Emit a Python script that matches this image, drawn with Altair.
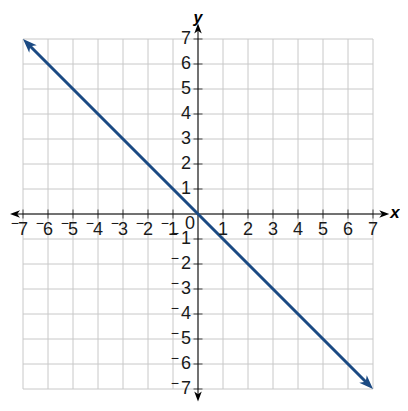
import altair as alt
import pandas as pd

# data
ticks = [-7, -6, -5, -4, -3, -2, -1, 0, 1, 2, 3, 4, 5, 6, 7]
line_x = [-7, 7]
line_y = [7, -7]
x_axis_ends = [-7.52, 7.65]
y_axis_ends = [-7.5, 7.62]

nonzero = [t for t in ticks if t != 0]
negative = [t for t in ticks if t < 0]
xlab = pd.DataFrame({"x": nonzero, "y": [0] * len(nonzero), "t": [str(abs(v)) for v in nonzero]})
ylab = pd.DataFrame({"x": [0] * len(nonzero), "y": nonzero, "t": [str(abs(v)) for v in nonzero]})
xminus = pd.DataFrame({"x": negative, "y": [0] * len(negative), "t": ["\u2212"] * len(negative)})
yminus = pd.DataFrame({"x": [0] * len(negative), "y": negative, "t": ["\u2212"] * len(negative)})
vgrid = pd.DataFrame({"x": ticks, "y": [-7] * len(ticks), "y2": [7] * len(ticks)})
hgrid = pd.DataFrame({"y": ticks, "x": [-7] * len(ticks), "x2": [7] * len(ticks)})

SC = alt.Scale(domain=[-7, 7], nice=False, zero=False)
X = lambda f="x": alt.X(f"{f}:Q", scale=SC, axis=None)
Y = lambda f="y": alt.Y(f"{f}:Q", scale=SC, axis=None)

GRID = "#c8c8c8"
BLUE = "#1b4a83"
TXT = "#1a1a1a"
FONT = "Liberation Sans"
ARROW = "M0,-1 L0.75,1 L0,0.45 L-0.75,1 Z"

vg = alt.Chart(vgrid).mark_rule(color=GRID, strokeWidth=1).encode(x=X(), y=Y(), y2="y2:Q")
hg = alt.Chart(hgrid).mark_rule(color=GRID, strokeWidth=1).encode(y=Y(), x=X(), x2="x2:Q")

ax_len = 0.2
xaxis = alt.Chart(pd.DataFrame({"x": [x_axis_ends[0] + ax_len], "x2": [x_axis_ends[1] - ax_len], "y": [0]})).mark_rule(
    color="black", strokeWidth=1).encode(x=X(), x2="x2:Q", y=Y())
yaxis = alt.Chart(pd.DataFrame({"y": [y_axis_ends[0] + ax_len], "y2": [y_axis_ends[1] - ax_len], "x": [0]})).mark_rule(
    color="black", strokeWidth=1).encode(y=Y(), y2="y2:Q", x=X())

arrows_df = pd.DataFrame({
    "x": [x_axis_ends[0] + ax_len, x_axis_ends[1] - ax_len, 0, 0],
    "y": [0, 0, y_axis_ends[1] - ax_len, y_axis_ends[0] + ax_len],
    "a": [270, 90, 0, 180],
})
axis_arrows = alt.Chart(arrows_df).mark_point(shape=ARROW, filled=True, color="black", opacity=1, size=100,
                                              strokeWidth=0).encode(
    x=X(), y=Y(), angle=alt.Angle("a:Q", scale=None))

xticks = alt.Chart(pd.DataFrame({"x": nonzero, "y": [0] * len(nonzero)})).mark_tick(
    orient="vertical", color="black", thickness=1, size=9).encode(x=X(), y=Y())
yticks = alt.Chart(pd.DataFrame({"x": [0] * len(nonzero), "y": nonzero})).mark_tick(
    orient="horizontal", color="black", thickness=1, size=9).encode(x=X(), y=Y())

xlabels = alt.Chart(xlab).mark_text(font=FONT, fontSize=18, align="center", baseline="middle", dx=0, dy=16,
                                    color=TXT).encode(x=X(), y=Y(), text="t:N")
xminus_l = alt.Chart(xminus).mark_text(font=FONT, fontSize=14, align="right", baseline="middle", dx=-4, dy=10,
                                       color=TXT).encode(x=X(), y=Y(), text="t:N")
ylabels = alt.Chart(ylab).mark_text(font=FONT, fontSize=18, align="right", baseline="middle", dx=-7, dy=0,
                                    color=TXT).encode(x=X(), y=Y(), text="t:N")
yminus_l = alt.Chart(yminus).mark_text(font=FONT, fontSize=14, align="right", baseline="middle", dx=-19, dy=-5,
                                       color=TXT).encode(x=X(), y=Y(), text="t:N")
zero = alt.Chart(pd.DataFrame({"x": [0], "y": [0], "t": ["0"]})).mark_text(
    font=FONT, fontSize=18, align="right", baseline="middle", dx=-3, dy=10, color=TXT).encode(
    x=X(), y=Y(), text="t:N")

xname = alt.Chart(pd.DataFrame({"x": [x_axis_ends[1]], "y": [0], "t": ["x"]})).mark_text(
    font=FONT, fontSize=17, fontStyle="italic", fontWeight="bold", align="left", baseline="middle", dx=1, dy=-1,
    color="black").encode(x=X(), y=Y(), text="t:N")
yname = alt.Chart(pd.DataFrame({"x": [0], "y": [y_axis_ends[1]], "t": ["y"]})).mark_text(
    font=FONT, fontSize=16, fontStyle="italic", fontWeight="bold", align="center", baseline="alphabetic", dy=-1,
    color="black").encode(x=X(), y=Y(), text="t:N")

# data line with arrowheads
off = 0.2
seg = pd.DataFrame({"x": [line_x[0] + off, line_x[1] - off], "y": [line_y[0] - off, line_y[1] + off]})
line = alt.Chart(seg).mark_line(color=BLUE, strokeWidth=3).encode(x=X(), y=Y())
heads = alt.Chart(pd.DataFrame({
    "x": [line_x[0] + off, line_x[1] - off],
    "y": [line_y[0] - off, line_y[1] + off],
    "a": [315, 135],
})).mark_point(shape=ARROW, filled=True, color=BLUE, opacity=1, size=200, strokeWidth=0).encode(
    x=X(), y=Y(), angle=alt.Angle("a:Q", scale=None))

chart = alt.layer(
    vg, hg, xaxis, yaxis, axis_arrows, xticks, yticks, line, heads,
    xlabels, xminus_l, ylabels, yminus_l, zero, xname, yname
).properties(
    width=350, height=350,
    autosize=alt.AutoSizeParams(type="none"),
    padding={"left": 15, "top": 31, "right": 27, "bottom": 14},
).configure_view(stroke=None)

chart.save("out.html", embed_options={"renderer": "svg", "actions": False})
